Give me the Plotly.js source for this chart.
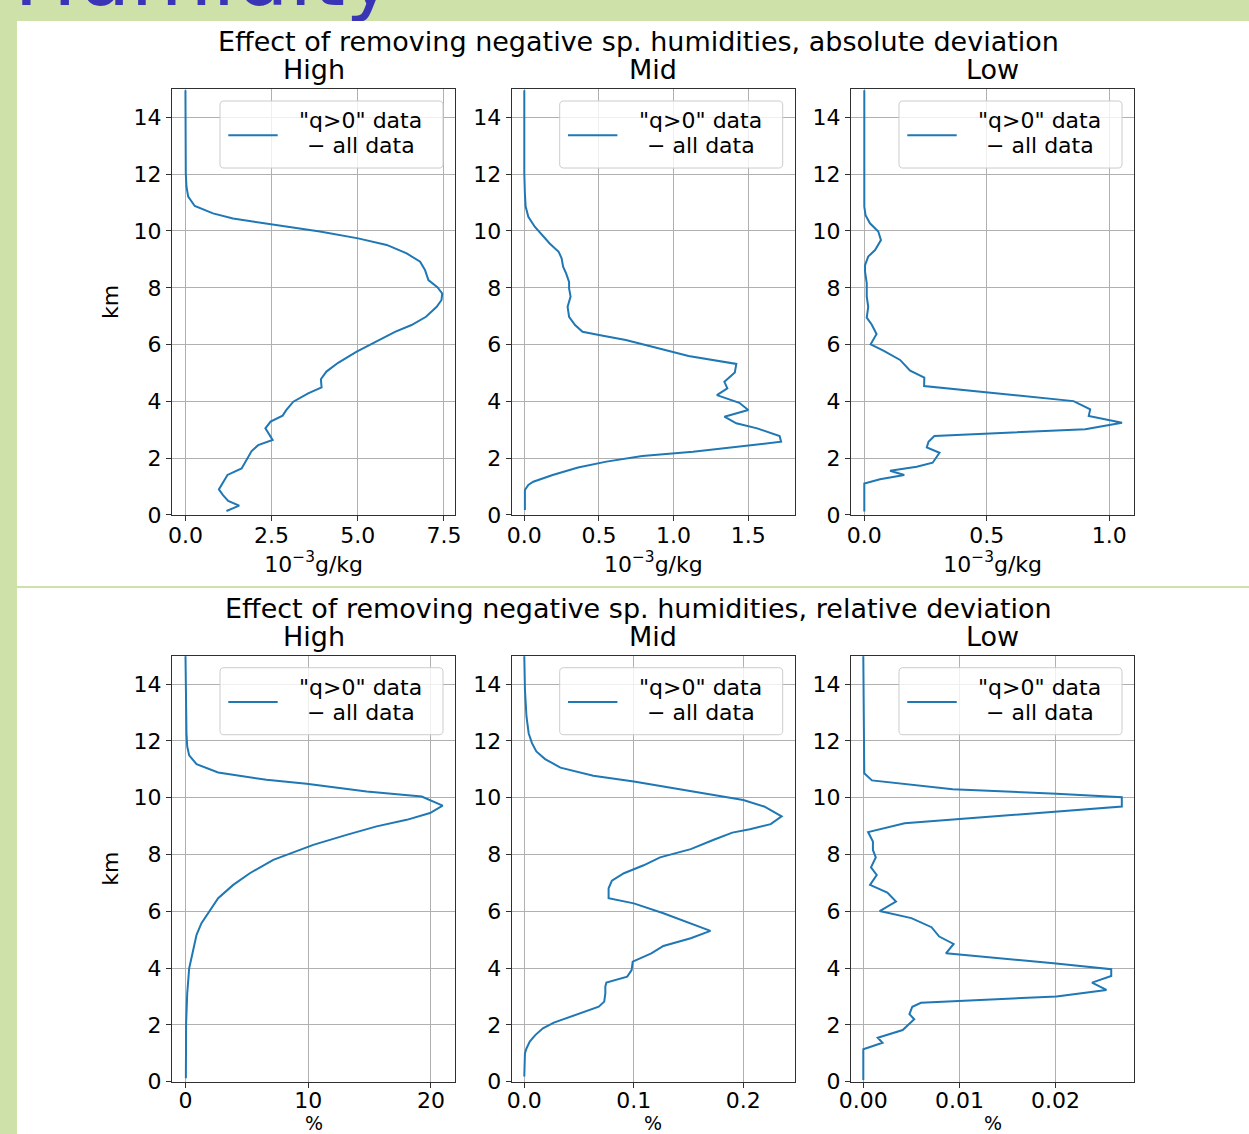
<!DOCTYPE html>
<html>
<head>
<meta charset="utf-8">
<script src="https://cdn.plot.ly/plotly-3.0.1.min.js"></script>
<style>
html,body{margin:0;padding:0;background:#cde1a9;width:1249px;height:1134px;overflow:hidden;}
body{position:relative;}
#hdr{position:absolute;left:0;top:0;}
#chart{position:absolute;left:17px;top:21px;width:1232px;height:1113px;background:#fff;}
#sep{position:absolute;left:17px;top:586px;width:1232px;height:2px;background:#cde1a9;}
</style>
</head>
<body>
<svg id="hdr" width="1249" height="40"><text x="14" y="5" font-family="DejaVu Sans" font-size="84" fill="#3a35b6">Humidity</text></svg>
<div id="chart"></div>
<div id="sep"></div>
<script>
// ---------- text ----------
const absTitle = 'Effect of removing negative sp. humidities, absolute deviation';
const relTitle = 'Effect of removing negative sp. humidities, relative deviation';
const panelNames = ['High', 'Mid', 'Low'];
const heightLabel = 'km';
const absUnit = '10<sup>\u22123</sup>g/kg';
const relUnit = '%';
const legendLine1 = '"q>0" data';
const legendLine2 = '\u2212 all data';

// ---------- tick labels ----------
const kmTicks = [0, 2, 4, 6, 8, 10, 12, 14];
const absHighTicks = [0, 2.5, 5, 7.5];
const absHighTickText = ['0.0', '2.5', '5.0', '7.5'];
const absMidTicks = [0, 0.5, 1, 1.5];
const absMidTickText = ['0.0', '0.5', '1.0', '1.5'];
const absLowTicks = [0, 0.5, 1];
const absLowTickText = ['0.0', '0.5', '1.0'];
const relHighTicks = [0, 10, 20];
const relHighTickText = ['0', '10', '20'];
const relMidTicks = [0, 0.1, 0.2];
const relMidTickText = ['0.0', '0.1', '0.2'];
const relLowTicks = [0, 0.01, 0.02];
const relLowTickText = ['0.00', '0.01', '0.02'];

// ---------- data: absolute deviation (10^-3 g/kg) ----------
const absHighKm = [0.14,0.33,0.50,0.70,0.90,1.08,1.41,1.64,1.94,2.25,2.46,2.64,3.05,3.29,3.50,3.70,3.99,4.28,4.49,4.78,5.05,5.36,5.75,6.16,6.45,6.69,6.98,7.33,7.57,7.80,8.02,8.27,8.63,8.92,9.21,9.51,9.74,9.98,10.25,10.44,10.62,10.88,11.21,11.56,12.03,14.96];
const absHighDev = [1.19,1.56,1.24,1.09,0.97,1.05,1.22,1.63,1.77,1.92,2.11,2.53,2.32,2.47,2.82,2.93,3.13,3.56,3.95,3.93,4.09,4.43,4.97,5.64,6.08,6.56,6.98,7.29,7.43,7.45,7.31,7.05,6.95,6.81,6.42,5.84,5.01,3.90,2.45,1.38,0.80,0.27,0.08,0.03,0.01,0.0];

const absMidKm = [0.18,0.88,1.06,1.17,1.41,1.67,1.88,2.08,2.23,2.58,2.78,3.05,3.23,3.46,3.70,3.95,4.22,4.46,4.69,5.02,5.32,5.40,5.60,5.83,6.16,6.34,6.45,6.69,6.98,7.33,7.69,7.98,8.21,8.51,8.74,9.04,9.27,9.56,9.86,10.15,10.50,10.86,11.32,12.03,14.96];
const absMidDev = [0.004,0.004,0.027,0.06,0.19,0.36,0.55,0.79,1.13,1.72,1.71,1.56,1.42,1.34,1.50,1.44,1.29,1.36,1.34,1.41,1.42,1.33,1.10,0.93,0.68,0.50,0.39,0.34,0.30,0.29,0.31,0.30,0.30,0.28,0.26,0.25,0.23,0.17,0.12,0.07,0.027,0.009,0.004,0.0,0.0];

const absLowKm = [0.12,1.11,1.26,1.41,1.56,1.70,1.84,2.05,2.19,2.38,2.58,2.78,3.02,3.25,3.49,3.72,4.01,4.54,4.84,5.08,5.46,5.79,6.01,6.37,6.71,6.95,7.33,7.69,8.16,8.57,8.80,9.10,9.33,9.68,9.98,10.27,10.56,10.86,14.96];
const absLowDev = [0,0,0.064,0.163,0.105,0.214,0.279,0.296,0.307,0.255,0.262,0.286,0.902,1.052,0.916,0.922,0.854,0.244,0.245,0.187,0.146,0.078,0.026,0.050,0.030,0.010,0.016,0.010,0.010,0.003,0.003,0.016,0.044,0.068,0.057,0.023,0.005,0,0];

// ---------- data: relative deviation (%) ----------
const relHighKm = [0.12,2.06,3.11,3.99,4.52,5.17,5.58,5.93,6.46,6.93,7.34,7.81,8.34,8.69,8.99,9.22,9.46,9.72,10.04,10.22,10.49,10.63,10.89,11.18,11.49,11.80,12.27,14.98];
const relHighDev = [0.03,0.05,0.14,0.30,0.57,0.90,1.30,1.85,2.66,3.89,5.24,7.15,10.41,13.12,15.57,18.02,19.92,20.95,19.24,14.76,9.86,6.60,2.66,0.90,0.30,0.14,0.08,0];

const relMidKm = [0.18,1.00,1.17,1.41,1.64,1.88,2.08,2.29,2.50,2.64,2.82,3.11,3.35,3.49,3.70,3.93,4.23,4.52,4.78,5.05,5.31,5.58,5.93,6.28,6.46,6.81,7.08,7.34,7.62,7.90,8.19,8.52,8.77,8.89,9.07,9.34,9.69,9.92,10.22,10.57,10.77,11.06,11.36,11.63,11.92,12.27,12.86,13.80,14.98];
const relMidDev = [0,0.0006,0.002,0.005,0.010,0.017,0.027,0.042,0.057,0.068,0.073,0.074,0.074,0.075,0.094,0.098,0.099,0.116,0.127,0.152,0.170,0.152,0.127,0.100,0.077,0.077,0.080,0.091,0.109,0.124,0.152,0.173,0.190,0.206,0.225,0.235,0.219,0.200,0.155,0.100,0.063,0.033,0.019,0.011,0.007,0.004,0.002,0.0006,0];

const relLowKm = [0.06,1.14,1.37,1.55,1.82,2.20,2.38,2.64,2.78,3.00,3.23,3.49,3.72,3.96,4.17,4.52,4.85,5.11,5.44,5.76,6.01,6.34,6.66,6.93,7.28,7.55,7.90,8.16,8.46,8.79,9.10,9.51,9.69,10.02,10.14,10.30,10.61,10.86,14.98];
const relLowDev = [0,0,0.0020,0.0015,0.0041,0.0053,0.0048,0.0051,0.0060,0.0201,0.0253,0.0238,0.0258,0.0258,0.0198,0.0086,0.0094,0.0079,0.0071,0.0050,0.0017,0.0034,0.0025,0.0007,0.0014,0.0008,0.0013,0.0010,0.0010,0.0005,0.0043,0.0199,0.0269,0.0269,0.0201,0.0093,0.0009,0.0001,0];

// ---------- build ----------
const FONT = 'DejaVu Sans, Liberation Sans, sans-serif';
const BLUE = '#1f77b4';
const TICK_SIZE = 22, TITLE_SIZE = 27;

const colDomains = [[0.12581, 0.35576], [0.40154, 0.63149], [0.67695, 0.90690]];
const rowDomains = [[0.556155, 0.938904], [0.046990, 0.429740]];

const panels = [
  {km: absHighKm, dev: absHighDev, range: [-0.39, 7.83], tv: absHighTicks, tt: absHighTickText, unit: absUnit},
  {km: absMidKm, dev: absMidDev, range: [-0.0844, 1.813], tv: absMidTicks, tt: absMidTickText, unit: absUnit},
  {km: absLowKm, dev: absLowDev, range: [-0.0543, 1.102], tv: absLowTicks, tt: absLowTickText, unit: absUnit},
  {km: relHighKm, dev: relHighDev, range: [-1.10, 21.98], tv: relHighTicks, tt: relHighTickText, unit: relUnit},
  {km: relMidKm, dev: relMidDev, range: [-0.0115, 0.2472], tv: relMidTicks, tt: relMidTickText, unit: relUnit},
  {km: relLowKm, dev: relLowDev, range: [-0.00128, 0.02820], tv: relLowTicks, tt: relLowTickText, unit: relUnit}
];

const data = [];
const layout = {
  width: 1232, height: 1113,
  margin: {l: 0, r: 0, t: 0, b: 0},
  paper_bgcolor: '#ffffff', plot_bgcolor: '#ffffff',
  showlegend: false,
  font: {family: FONT, color: '#000000', size: TICK_SIZE},
  shapes: [], annotations: []
};

const axisCommon = {
  showgrid: true, gridcolor: '#b0b0b0', gridwidth: 1,
  zeroline: false, showline: true, mirror: true,
  linecolor: '#303030', linewidth: 1,
  ticks: 'outside', ticklen: 5, tickwidth: 1, tickcolor: '#303030',
  tickfont: {family: FONT, size: TICK_SIZE, color: '#000000'},
  fixedrange: true, automargin: false
};

function roundRectPath(x0, y0, x1, y1, rx, ry) {
  return `M${x0+rx},${y0} L${x1-rx},${y0} Q${x1},${y0} ${x1},${y0+ry} L${x1},${y1-ry} Q${x1},${y1} ${x1-rx},${y1} L${x0+rx},${y1} Q${x0},${y1} ${x0},${y1-ry} L${x0},${y0+ry} Q${x0},${y0} ${x0+rx},${y0} Z`;
}

const titleFont = {family: FONT, size: TITLE_SIZE, color: '#000'};
const textFont = {family: FONT, size: TICK_SIZE, color: '#000'};

panels.forEach((p, i) => {
  const n = i + 1;
  const sfx = n === 1 ? '' : String(n);
  const row = Math.floor(i / 3), col = i % 3;
  data.push({
    type: 'scatter', mode: 'lines',
    x: p.dev, y: p.km,
    xaxis: 'x' + sfx, yaxis: 'y' + sfx,
    name: '"q>0" data \u2212 all data',
    line: {color: BLUE, width: 2},
    hoverinfo: 'x+y'
  });
  const xa = Object.assign({}, axisCommon, {
    domain: colDomains[col], anchor: 'y' + sfx,
    range: p.range, tickmode: 'array', tickvals: p.tv, ticktext: p.tt,
    ticklabelstandoff: row === 0 ? -4 : -6
  });
  if (row === 0) {
    xa.title = {text: p.unit, font: textFont, standoff: 4};
  }
  layout['xaxis' + sfx] = xa;
  const ya = Object.assign({}, axisCommon, {
    domain: rowDomains[row], anchor: 'x' + sfx,
    range: [0, 15], tickmode: 'array', tickvals: kmTicks
  });
  if (col === 0) {
    ya.title = {text: heightLabel, font: textFont, standoff: 8};
  }
  layout['yaxis' + sfx] = ya;

  const xr = 'x' + sfx + ' domain', yr = 'y' + sfx + ' domain';
  if (row === 1) {
    // unit label below the bottom row (annotation, so it is not pushed onto the tick labels)
    layout.annotations.push({
      xref: xr, yref: yr, x: 0.5, y: 0, xanchor: 'center', yanchor: 'middle', yshift: -41.3,
      borderpad: 0,
      text: p.unit, showarrow: false, font: {family: FONT, size: 19, color: '#000'}
    });
  }
  // legend frame
  layout.shapes.push({
    type: 'path', xref: xr, yref: yr, layer: 'above',
    path: roundRectPath(0.1694, 0.8145, 0.9566, 0.9718, 0.014, 0.0094),
    line: {color: '#cccccc', width: 1}, fillcolor: 'rgba(255,255,255,0.8)'
  });
  layout.shapes.push({
    type: 'line', xref: xr, yref: yr, layer: 'above',
    x0: 0.1987, x1: 0.3731, y0: 0.8913, y1: 0.8913,
    line: {color: BLUE, width: 2}
  });
  layout.annotations.push({
    xref: xr, yref: yr, x: 0.667, y: 0.9232, xanchor: 'center', yanchor: 'middle',
    height: 23, valign: 'bottom', borderpad: 0,
    text: legendLine1, showarrow: false, font: textFont
  });
  layout.annotations.push({
    xref: xr, yref: yr, x: 0.667, y: 0.8646, xanchor: 'center', yanchor: 'middle',
    height: 23, valign: 'bottom', borderpad: 0,
    text: legendLine2, showarrow: false, font: textFont
  });
  // subplot title
  layout.annotations.push({
    xref: xr, yref: yr, x: 0.5, y: 1, xanchor: 'center', yanchor: 'bottom', yshift: 3,
    height: 28, valign: 'bottom', borderpad: 0,
    text: panelNames[col], showarrow: false, font: titleFont
  });
});

// figure headers
layout.annotations.push({
  xref: 'paper', yref: 'paper', x: 0.50406, y: 0.97987, xanchor: 'center', yanchor: 'middle',
  height: 28, valign: 'bottom', borderpad: 0,
  text: absTitle, showarrow: false, font: titleFont
});
layout.annotations.push({
  xref: 'paper', yref: 'paper', x: 0.50406, y: 0.47071, xanchor: 'center', yanchor: 'middle',
  height: 28, valign: 'bottom', borderpad: 0,
  text: relTitle, showarrow: false, font: titleFont
});

Plotly.newPlot('chart', data, layout, {displayModeBar: false, responsive: false});
</script>
</body>
</html>
